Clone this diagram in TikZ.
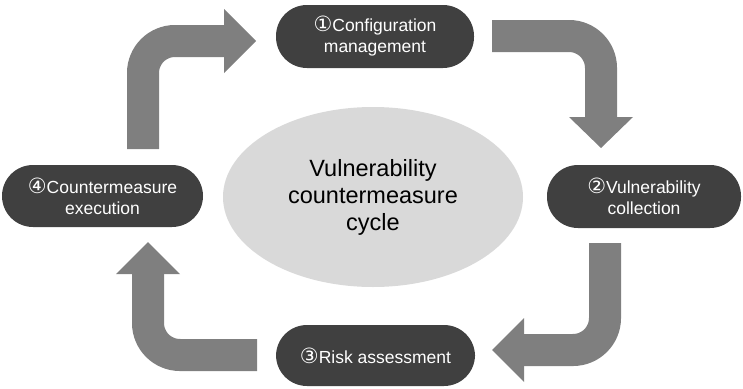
\documentclass[tikz,border=0pt]{standalone}
\usepackage{fontspec}
\setmainfont{Liberation Sans}
\newfontfamily\circfont[Scale=1.2]{DejaVu Sans}
\usetikzlibrary{shapes.geometric}
\definecolor{nodegray}{HTML}{404040}
\definecolor{arrowgray}{HTML}{7F7F7F}
\definecolor{ellgray}{HTML}{D9D9D9}
\newcommand{\cnum}[1]{{\circfont #1}}
\begin{document}
\begin{tikzpicture}[x=1pt,y=-1pt,
  stage/.style={fill=nodegray, text=white, rounded corners=31pt, inner sep=0pt,
    align=center, font=\fontsize{17.5}{21}\selectfont},
  shaft/.style={draw=arrowgray, line width=32pt, rounded corners=32pt},
  head/.style={fill=arrowgray}]
\useasboundingbox (0,0) rectangle (743,388);
\node[ellipse, fill=ellgray, minimum width=300pt, minimum height=180pt, inner sep=0pt,
  align=center, font=\fontsize{23.5}{27}\selectfont] (cycle) at (373,197)
  {Vulnerability\\countermeasure\\cycle};
\node[stage, minimum width=198pt, minimum height=63pt] (n1) at (375,36.5)
  {\cnum{①}Configuration\\management};
\node[stage, minimum width=194pt, minimum height=63pt] (n2) at (644,196.5)
  {\cnum{②}Vulnerability\\collection};
\node[stage, minimum width=199pt, minimum height=61pt] (n3) at (375.5,355.5)
  {\cnum{③}Risk assessment};
\node[stage, minimum width=201pt, minimum height=62pt] (n4) at (102.5,196)
  {\cnum{④}Countermeasure\\execution};
% arrow 4 -> 1
\coordinate (aS) at (143,149);
\coordinate (aE) at (226,41);
\coordinate (aH) at (224,41);
\draw[shaft] (aS) |- (aE);
\fill[head] (aH) ++(0,-32) -- ++(32,32) -- ++(-32,32) -- cycle;
% arrow 1 -> 2
\coordinate (bS) at (492,36);
\coordinate (bE) at (601,119);
\coordinate (bH) at (601,117);
\draw[shaft] (bS) -| (bE);
\fill[head] (bH) ++(-32,0) -- ++(64,0) -- ++(-32,31) -- cycle;
% arrow 2 -> 3
\coordinate (cS) at (605,243);
\coordinate (cE) at (522,350);
\coordinate (cH) at (524,350);
\draw[shaft] (cS) |- (cE);
\fill[head] (cH) ++(0,-32) -- ++(0,64) -- ++(-32,-32) -- cycle;
% arrow 3 -> 4
\coordinate (dS) at (257,355);
\coordinate (dE) at (148,272);
\coordinate (dH) at (148,274);
\draw[shaft] (dS) -| (dE);
\fill[head] (dH) ++(-32,0) -- ++(64,0) -- ++(-32,-32) -- cycle;
\end{tikzpicture}
\end{document}
